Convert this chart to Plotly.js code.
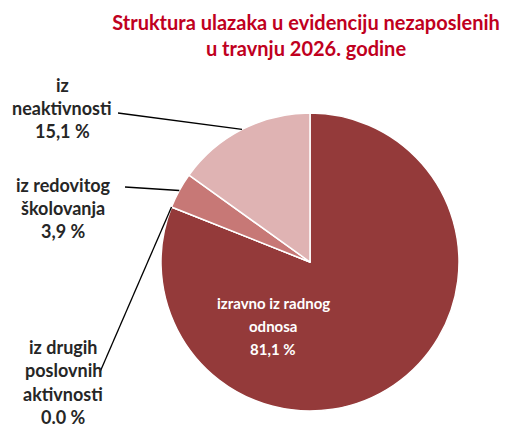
<!DOCTYPE html>
<html>
<head>
<meta charset="utf-8">
<script src="https://cdn.plot.ly/plotly-3.0.1.min.js"></script>
<style>html,body{margin:0;padding:0;background:#fff;}#chart{width:512px;height:428px;}</style>
</head>
<body>
<div id="chart"></div>
<script>
// ---- data ----
const categories = ["izravno iz radnog odnosa", "iz drugih poslovnih aktivnosti", "iz redovitog školovanja", "iz neaktivnosti"];
const values = [81.1, 0.0, 3.9, 15.1];
const valueLabels = ["81,1 %", "0.0 %", "3,9 %", "15,1 %"];
const labelLines = [["izravno iz radnog", "odnosa"], ["iz drugih", "poslovnih", "aktivnosti"], ["iz redovitog", "školovanja"], ["iz", "neaktivnosti"]];
const colors = ["#943a3a", "#943a3a", "#c77876", "#dfb3b3"];

// ---- layout geometry (pixels) ----
const W = 512, H = 428;
const cx = 310, cy = 262, R = 149;
const px2x = p => p / W;
const py2y = p => 1 - p / H;

// label placement (text centre, line spacing, line start) per category
const labelPos = [
  {x: 273, y: 326, inside: true, size: 15, gap: 23},
  {x: 63, y: 382, lx: 100, ly: 372, size: 18, gap: 23.4},
  {x: 63, y: 208, lx: 125, ly: 187, size: 18, gap: 23.4},
  {x: 62, y: 108, lx: 118, ly: 113, size: 18, gap: 23.4}
];

const total = values.reduce((a, b) => a + b, 0);
// cumulative fractions -> angle of anchor on pie edge (clockwise from top)
let cum = 0;
const anchors = values.map(v => {
  const start = cum / total;
  cum += v;
  const end = cum / total;
  const mid = (start + end) / 2;
  const ang = mid * 2 * Math.PI;
  return {x: cx + R * Math.sin(ang), y: cy - R * Math.cos(ang)};
});

const annotations = [];
const shapes = [];
categories.forEach((c, i) => {
  const p = labelPos[i];
  const lines = labelLines[i].concat([valueLabels[i]]);
  const n = lines.length;
  lines.forEach((ln, k) => {
    annotations.push({
      xref: "paper", yref: "paper", x: px2x(p.x), y: py2y(p.y + (k - (n - 1) / 2) * p.gap),
      xanchor: "center", yanchor: "middle", showarrow: false,
      text: "<b>" + ln + "</b>", align: "center",
      font: {family: "Lato, 'Open Sans', sans-serif", size: p.size, color: p.inside ? "#ffffff" : "#262626"}
    });
  });
  if (!p.inside) {
    shapes.push({
      type: "line", xref: "paper", yref: "paper",
      x0: px2x(p.lx), y0: py2y(p.ly), x1: px2x(anchors[i].x), y1: py2y(anchors[i].y),
      line: {color: "#000000", width: 1.3}
    });
  }
});

const trace = {
  type: "pie",
  labels: categories,
  values: values,
  sort: false,
  direction: "clockwise",
  rotation: 0,
  textinfo: "none",
  hoverinfo: "label+percent",
  marker: {colors: colors, line: {color: "#ffffff", width: 1.5}},
  domain: {x: [px2x(cx - R), px2x(cx + R)], y: [py2y(cy + R), py2y(cy - R)]},
  showlegend: false
};

const layout = {
  width: W, height: H,
  margin: {l: 0, r: 0, t: 0, b: 0},
  paper_bgcolor: "#ffffff",
  title: {
    text: "<b>Struktura ulazaka u evidenciju nezaposlenih<br>u travnju 2026. godine</b>",
    x: px2x(306), xanchor: "center", y: py2y(30), yanchor: "middle",
    font: {family: "Lato, 'Open Sans', sans-serif", size: 20, color: "#c0001e"}
  },
  annotations: annotations,
  shapes: shapes
};

Plotly.newPlot("chart", [trace], layout, {displayModeBar: false, staticPlot: true});
</script>
</body>
</html>
